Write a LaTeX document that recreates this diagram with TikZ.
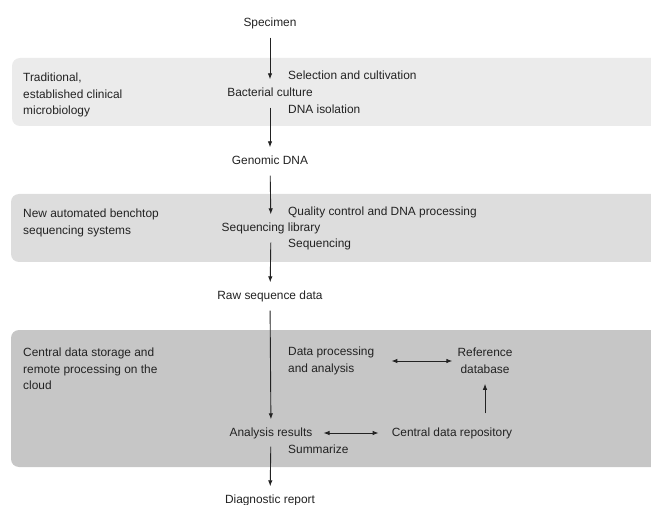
\documentclass[tikz,border=0pt]{standalone}
\usepackage{fontspec}
\setmainfont{Liberation Sans}
\usetikzlibrary{arrows.meta,calc}
\definecolor{bandA}{HTML}{EBEBEB}
\definecolor{bandB}{HTML}{DDDDDD}
\definecolor{bandC}{HTML}{C6C6C6}
\definecolor{ink}{HTML}{222222}
\tikzset{
  lbl/.style={inner sep=0pt, text height=8.5pt, text depth=2.5pt, text=ink, font=\fontsize{11.9}{16.5}\selectfont},
  sidelbl/.style={lbl, anchor=west},
  multi/.style={inner sep=0pt, text=ink, font=\fontsize{11.9}{16.5}\selectfont, align=left, anchor=north west},
  band/.style={rounded corners=8pt},
  flow/.style={draw=ink, line width=0.9pt, -{Latex[length=6pt,width=4.5pt]}, shorten <=8pt, shorten >=9pt},
  twoway/.style={draw=ink, line width=0.9pt, {Latex[length=6pt,width=4.5pt]}-{Latex[length=6pt,width=4.5pt]}}
}
\begin{document}
\begin{tikzpicture}[x=1pt,y=-1pt]
\useasboundingbox (0,0) rectangle (651,505);
% bands
\fill[bandA, band] (12,58) rectangle (665,126);
\fill[bandB, band] (11,194) rectangle (665,262);
\fill[bandC, band] (11,330) rectangle (665,467);
% left labels
\node[multi] (trad) at (23,73) {Traditional,\\established clinical\\microbiology};
\node[multi] (newauto) at (23,209) {New automated benchtop\\sequencing systems};
\node[multi] (cloud) at (23,348) {Central data storage and\\remote processing on the\\cloud};
% main flow
\node[lbl] (spec) at (270,24) {Specimen};
\node[lbl] (bact) at (270,94) {Bacterial culture};
\node[lbl] (gen) at (270,162) {Genomic DNA};
\node[lbl] (seqlib) at (271,229) {Sequencing library};
\node[lbl] (raw) at (270,297) {Raw sequence data};
\node[lbl] (ana) at (271,433) {Analysis results};
\node[lbl] (diag) at (270,500) {Diagnostic report};
% step labels
\node[sidelbl] (sel) at (288,77) {Selection and cultivation};
\node[sidelbl] (iso) at (288,111) {DNA isolation};
\node[sidelbl] (qc) at (288,213) {Quality control and DNA processing};
\node[sidelbl] (seq) at (288,245) {Sequencing};
\node[sidelbl] (summ) at (288,450) {Summarize};
% cloud nodes
\node[multi] (dp) at (288,347) {Data processing\\and analysis};
\node[inner sep=0pt, text=ink, font=\fontsize{11.9}{16.5}\selectfont, align=center] (ref) at (485,361) {Reference\\database};
\node[lbl] (repo) at (452,433) {Central data repository};
% arrows
\draw[flow] (spec) -- (bact);
\draw[flow] (bact) -- (gen);
\draw[flow] (gen) -- (seqlib);
\draw[flow] (seqlib) -- (raw);
\draw[flow, shorten >=8pt] (raw) -- (ana);
\draw[flow, shorten >=8pt] (ana) -- (diag);
\draw[twoway, shorten <=17pt, shorten >=5pt] (dp.east |- ref.west) -- (ref.west);
\draw[twoway, shorten <=11pt, shorten >=13pt] (ana.east) -- (repo.west);
\draw[draw=ink, line width=0.9pt, -{Latex[length=6pt,width=4.5pt]}, shorten <=14pt, shorten >=10pt] (ref.south |- repo.north) -- (ref.south);
\end{tikzpicture}
\end{document}
